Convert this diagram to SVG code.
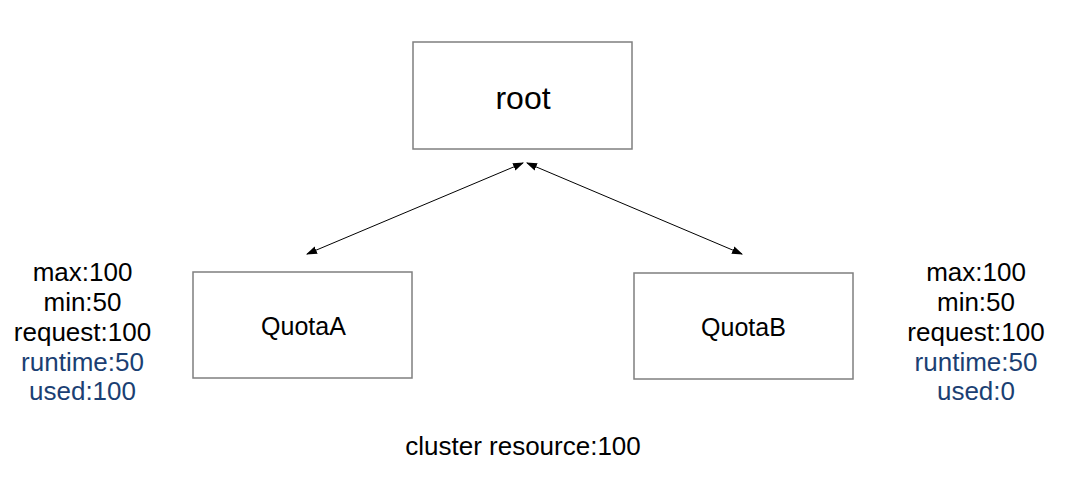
<svg xmlns="http://www.w3.org/2000/svg" width="1066" height="478" viewBox="0 0 1066 478">
<style>
.box{fill:#fff;stroke:#7f7f7f;stroke-width:1.5}
.t{font-family:"Liberation Sans",Arial,sans-serif;fill:#000;text-anchor:middle}
.b{fill:#1b3f73}
.c{stroke:#000;stroke-width:1;fill:none}
</style>
<defs>
<marker id="ah" viewBox="0 0 10 10" refX="9" refY="5" markerWidth="11" markerHeight="11" orient="auto-start-reverse" markerUnits="userSpaceOnUse">
<path d="M0,1.5 L10,5 L0,8.5 z" fill="#000"/>
</marker>
</defs>
<rect width="1066" height="478" fill="#fff"/>
<g id="connectors">
<line class="c" x1="307" y1="254" x2="523" y2="163" marker-start="url(#ah)" marker-end="url(#ah)"/>
<line class="c" x1="527" y1="163" x2="742" y2="254" marker-start="url(#ah)" marker-end="url(#ah)"/>
</g>
<g id="root">
<rect class="box" x="413" y="42" width="219" height="107"/>
<text class="t" x="523" y="109" font-size="32">root</text>
</g>
<g id="quotaA">
<rect class="box" x="193" y="272" width="219" height="106"/>
<text class="t" x="303.5" y="335" font-size="25">QuotaA</text>
</g>
<g id="quotaB">
<rect class="box" x="634" y="273" width="219" height="106"/>
<text class="t" x="743.5" y="336" font-size="25">QuotaB</text>
</g>
<g id="labelA" font-size="26">
<text class="t" x="82.5" y="281">max:100</text>
<text class="t" x="82.5" y="311">min:50</text>
<text class="t" x="82.5" y="341">request:100</text>
<text class="t b" x="82.5" y="371">runtime:50</text>
<text class="t b" x="82.5" y="400">used:100</text>
</g>
<g id="labelB" font-size="26">
<text class="t" x="976" y="281">max:100</text>
<text class="t" x="976" y="311">min:50</text>
<text class="t" x="976" y="341">request:100</text>
<text class="t b" x="976" y="371">runtime:50</text>
<text class="t b" x="976" y="400">used:0</text>
</g>
<g id="cluster">
<text class="t" x="523" y="455" font-size="26">cluster resource:100</text>
</g>
</svg>
